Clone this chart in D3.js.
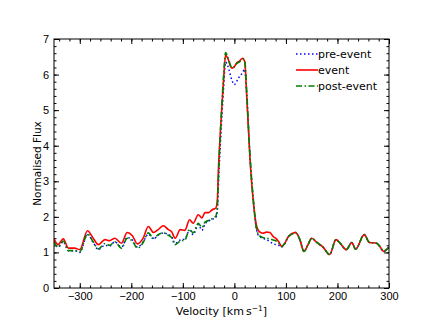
<!DOCTYPE html>
<html>
<head>
<meta charset="utf-8">
<script src="https://cdn.jsdelivr.net/npm/d3@7/dist/d3.min.js"></script>
<style>
  html, body { margin: 0; padding: 0; background: #fff; }
  svg { display: block; font-family: "DejaVu Sans", sans-serif; }
  .axis path { display: none; }
  .axis line { stroke: #000; stroke-width: 1; }
  .axis text { font-size: 11px; fill: #000; }
</style>
</head>
<body>
<svg id="chart" width="432" height="324"></svg>
<script>
// ── Data ────────────────────────────────────────────────────────────────────

const VELOCITY = [-350, -342, -332, -322, -310, -300, -285, -274, -264, -251,
  -242, -232, -219, -208, -198, -188, -177, -167, -157, -148,
  -138, -128, -122, -115, -105, -96, -87, -80, -70, -63,
  -57, -50, -43, -36, -33, -31, -27, -21, -17, -13,
  -5, 0, 4, 10, 16, 20, 24, 30, 37, 42,
  48, 55, 62, 69, 75, 80, 86, 92, 98, 105,
  119, 127, 135, 143, 150, 160, 172, 185, 197, 205,
  217, 228, 235, 252, 262, 276, 283, 289, 300];

const EVENT = [1.38, 1.22, 1.38, 1.12, 1.12, 1.08, 1.61, 1.40, 1.22, 1.36,
  1.33, 1.40, 1.26, 1.56, 1.47, 1.24, 1.40, 1.73, 1.56, 1.64,
  1.75, 1.64, 1.59, 1.40, 1.64, 1.62, 1.92, 1.82, 2.06, 1.97,
  2.12, 2.12, 2.20, 2.25, 2.48, 3.32, 4.44, 5.85, 6.55, 6.46,
  6.18, 6.22, 6.32, 6.38, 6.46, 6.36, 5.38, 3.70, 2.39, 1.82,
  1.59, 1.54, 1.57, 1.56, 1.45, 1.40, 1.30, 1.17, 1.26, 1.45,
  1.56, 1.36, 1.03, 1.22, 1.40, 1.28, 1.15, 0.94, 1.36, 1.26,
  1.08, 1.28, 1.09, 1.50, 1.28, 1.26, 1.15, 1.03, 1.15];

const POST_EVENT = [1.30, 1.15, 1.32, 1.05, 1.05, 1.02, 1.52, 1.30, 1.10, 1.25,
  1.20, 1.30, 1.12, 1.40, 1.32, 1.12, 1.28, 1.55, 1.40, 1.50,
  1.55, 1.48, 1.42, 1.22, 1.32, 1.35, 1.65, 1.55, 1.82, 1.70,
  1.85, 1.90, 1.95, 2.02, 2.30, 3.10, 4.40, 5.95, 6.62, 6.50,
  6.20, 6.22, 6.30, 6.36, 6.44, 6.40, 5.50, 3.80, 2.45, 1.75,
  1.48, 1.42, 1.40, 1.38, 1.35, 1.33, 1.26, 1.17, 1.26, 1.45,
  1.54, 1.36, 1.03, 1.22, 1.40, 1.28, 1.15, 0.94, 1.36, 1.26,
  1.08, 1.28, 1.09, 1.50, 1.28, 1.26, 1.15, 1.03, 1.15];

const PRE_EVENT = [1.30, 1.15, 1.30, 1.05, 1.05, 1.00, 1.50, 1.28, 1.08, 1.20,
  1.18, 1.30, 1.15, 1.42, 1.35, 1.15, 1.30, 1.52, 1.38, 1.48,
  1.55, 1.50, 1.45, 1.25, 1.35, 1.38, 1.62, 1.50, 1.78, 1.62,
  1.80, 1.88, 1.93, 1.98, 2.20, 2.90, 4.10, 5.60, 6.35, 6.25,
  5.85, 5.72, 5.80, 5.95, 6.05, 6.15, 5.40, 3.75, 2.40, 1.72,
  1.45, 1.40, 1.36, 1.30, 1.25, 1.22, 1.20, 1.15, 1.26, 1.45,
  1.56, 1.36, 1.03, 1.22, 1.40, 1.28, 1.15, 0.94, 1.36, 1.26,
  1.08, 1.28, 1.09, 1.50, 1.28, 1.26, 1.15, 1.03, 1.15];

const X_TICKS = [-300, -200, -100, 0, 100, 200, 300];
const Y_TICKS = [0, 1, 2, 3, 4, 5, 6, 7];

const SERIES = [
  { label: 'pre-event',  values: PRE_EVENT,  color: '#0000ff', dash: '1.5,2.5', width: 1.5 },
  { label: 'event',      values: EVENT,      color: '#ff0000', dash: null,      width: 1.6 },
  { label: 'post-event', values: POST_EVENT, color: '#008000', dash: '6,2.5,1.5,2.5', width: 1.6 }
];

// ── Layout ──────────────────────────────────────────────────────────────────

const M = { left: 54, right: 389, top: 39, bottom: 288 };

const x = d3.scaleLinear().domain([-350, 300]).range([M.left, M.right]);
const y = d3.scaleLinear().domain([0, 7]).range([M.bottom, M.top]);

const svg = d3.select('#chart');

svg.append('defs').append('clipPath').attr('id', 'plot-clip')
  .append('rect')
  .attr('x', M.left).attr('y', M.top)
  .attr('width', M.right - M.left).attr('height', M.bottom - M.top);

const fmt = d => (d < 0 ? '\u2212' + Math.abs(d) : String(d));

// minor ticks first, then majors with labels (all ticks point inward)
const xMinor = d3.range(-340, 301, 20);
const yMinor = d3.range(0, 7.01, 0.2);

function addAxis(gen, tx, ty) {
  return svg.append('g').attr('class', 'axis')
    .attr('transform', 'translate(' + tx + ',' + ty + ')')
    .call(gen);
}

addAxis(d3.axisBottom(x).tickValues(xMinor).tickSize(-2.5).tickFormat(''), 0, M.bottom);
addAxis(d3.axisTop(x).tickValues(xMinor).tickSize(-2.5).tickFormat(''), 0, M.top);
addAxis(d3.axisLeft(y).tickValues(yMinor).tickSize(-2.5).tickFormat(''), M.left, 0);
addAxis(d3.axisRight(y).tickValues(yMinor).tickSize(-2.5).tickFormat(''), M.right, 0);

addAxis(d3.axisBottom(x).tickValues(X_TICKS).tickSize(-5).tickPadding(4).tickFormat(fmt), 0, M.bottom);
addAxis(d3.axisTop(x).tickValues(X_TICKS).tickSize(-5).tickFormat(''), 0, M.top);
addAxis(d3.axisLeft(y).tickValues(Y_TICKS).tickSize(-5).tickPadding(5).tickFormat(d3.format('d')), M.left, 0);
addAxis(d3.axisRight(y).tickValues(Y_TICKS).tickSize(-5).tickFormat(''), M.right, 0);

// ── Lines ───────────────────────────────────────────────────────────────────

const line = d3.line()
  .x((d, i) => x(VELOCITY[i]))
  .y(d => y(d))
  .curve(d3.curveMonotoneX);

const plot = svg.append('g').attr('clip-path', 'url(#plot-clip)');

SERIES.forEach(function (s) {
  plot.append('path')
    .datum(s.values)
    .attr('d', line)
    .attr('fill', 'none')
    .attr('stroke', s.color)
    .attr('stroke-width', s.width)
    .attr('stroke-dasharray', s.dash)
    .attr('stroke-linejoin', 'round');
});

// frame
svg.append('rect')
  .attr('x', M.left).attr('y', M.top)
  .attr('width', M.right - M.left).attr('height', M.bottom - M.top)
  .attr('fill', 'none').attr('stroke', '#000').attr('stroke-width', 1);

// ── Legend ──────────────────────────────────────────────────────────────────

const legend = svg.append('g').attr('transform', 'translate(296,54)');
SERIES.forEach(function (s, i) {
  const row = legend.append('g').attr('transform', 'translate(0,' + (i * 16) + ')');
  row.append('line')
    .attr('x1', 0).attr('x2', 22).attr('y1', 0).attr('y2', 0)
    .attr('stroke', s.color)
    .attr('stroke-width', s.width)
    .attr('stroke-dasharray', s.dash);
  row.append('text')
    .attr('x', 22).attr('y', 0).attr('dy', '0.35em')
    .attr('font-size', 11)
    .text(s.label);
});

// ── Axis titles ─────────────────────────────────────────────────────────────

const xTitle = svg.append('text')
  .attr('x', (M.left + M.right) / 2).attr('y', 315)
  .attr('text-anchor', 'middle').attr('font-size', 11);
xTitle.append('tspan').text('Velocity [km\u2009s');
xTitle.append('tspan').attr('dy', -4).attr('font-size', 7.5).text('\u22121');
xTitle.append('tspan').attr('dy', 4).text(']');

svg.append('text')
  .attr('transform', 'translate(41,' + ((M.top + M.bottom) / 2) + ') rotate(-90)')
  .attr('text-anchor', 'middle').attr('font-size', 10.5)
  .text('Normalised Flux');
</script>
</body>
</html>
